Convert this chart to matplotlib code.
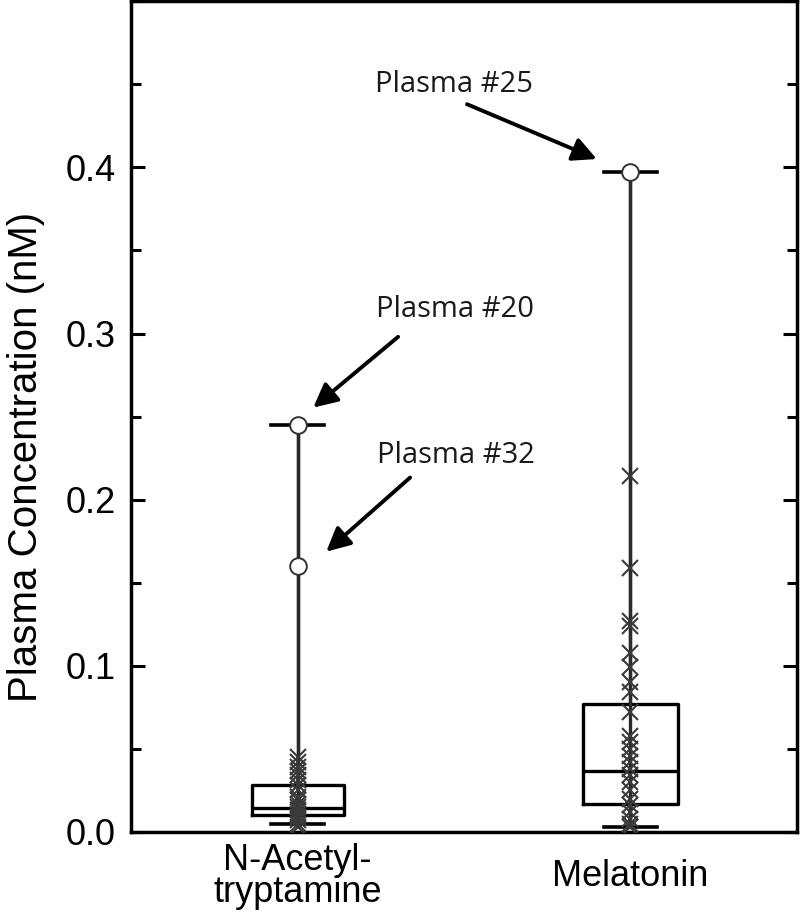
import matplotlib
matplotlib.use("Agg")
import matplotlib.pyplot as plt
from matplotlib.ticker import MultipleLocator

plt.rcParams["font.family"] = ["Liberation Sans", "DejaVu Sans"]

# ── Data ──────────────────────────────────────────────────────
categories = ["N-Acetyl-\ntryptamine", "Melatonin"]
positions = [1, 2]

q1 = [0.0102, 0.0169]
medians = [0.0145, 0.0367]
q3 = [0.0283, 0.0771]
whisk_lo = [0.0048, 0.0030]
whisk_hi = [0.245, 0.397]

# open circles (named plasma samples)
outliers_nat = [0.245, 0.160]
outliers_mel = [0.397]

# individual samples (x markers)
points_nat = [0.045, 0.042, 0.039, 0.037, 0.034, 0.031, 0.028, 0.025, 0.021,
              0.019, 0.017, 0.015, 0.013, 0.011, 0.009, 0.007, 0.005, 0.003]
points_mel = [0.214, 0.159, 0.127, 0.124, 0.108, 0.099, 0.090, 0.084, 0.072,
              0.058, 0.054, 0.050, 0.046, 0.042, 0.038, 0.034, 0.030, 0.025,
              0.020, 0.016, 0.012, 0.008, 0.005, 0.003]

annot_labels = ["Plasma #25", "Plasma #20", "Plasma #32"]
annot_text_xy = [(1.47, 0.450), (1.473, 0.3145), (1.476, 0.2265)]
annot_tail_xy = [(1.509, 0.438), (1.302, 0.298), (1.338, 0.2133)]
annot_tip_xy = [(1.899, 0.405), (1.047, 0.2554), (1.086, 0.1687)]

# ── Figure ────────────────────────────────────────────────────
fig = plt.figure(figsize=(8, 9.18), dpi=100)
ax = fig.add_axes([0.164, 0.0937, 0.832, 0.905])

# continuous whisker line cap-to-cap
ax.vlines(positions, whisk_lo, whisk_hi, color="#2a2a2a", lw=2.4, zorder=2)

stats = []
for i in range(2):
    stats.append({"med": medians[i], "q1": q1[i], "q3": q3[i],
                  "whislo": whisk_lo[i], "whishi": whisk_hi[i], "fliers": []})

ax.bxp(stats, positions=positions, widths=[0.276, 0.285], capwidths=0.16,
       showfliers=False, patch_artist=False,
       boxprops=dict(color="black", lw=2.4),
       medianprops=dict(color="black", lw=2.4),
       whiskerprops=dict(color="#2a2a2a", lw=2.4),
       capprops=dict(color="black", lw=2.6),
       manage_ticks=False)

ax.plot([positions[0]] * len(points_nat), points_nat, ls="none", marker="x",
        ms=12, mew=1.5, color="#3a3a3a", zorder=3)
ax.plot([positions[1]] * len(points_mel), points_mel, ls="none", marker="x",
        ms=12, mew=1.5, color="#3a3a3a", zorder=3)

ax.plot([positions[0]] * len(outliers_nat), outliers_nat, ls="none", marker="o",
        ms=12, mew=1.4, mfc="white", mec="#333333", zorder=4)
ax.plot([positions[1]] * len(outliers_mel), outliers_mel, ls="none", marker="o",
        ms=12, mew=1.4, mfc="white", mec="#333333", zorder=4)

# annotations
for lab, txy, tail, tip in zip(annot_labels, annot_text_xy, annot_tail_xy, annot_tip_xy):
    ax.text(txy[0], txy[1], lab, ha="center", va="center", fontsize=21,
            family=["Open Sans", "DejaVu Sans"], color="#1a1a1a")
    ax.annotate("", xy=tip, xytext=tail,
                arrowprops=dict(arrowstyle="-|>", lw=2.8, color="black",
                                mutation_scale=36, shrinkA=0, shrinkB=0))

# axes
ax.set_xlim(0.5, 2.5)
ax.set_ylim(0, 0.5)
ax.set_xticks(positions)
ax.set_xticklabels(categories, fontsize=26, linespacing=0.9)
for t in ax.get_xticklabels():
    t.set_verticalalignment("center")
ax.tick_params(axis="x", length=0, pad=32)

ax.set_yticks([0.0, 0.1, 0.2, 0.3, 0.4])
ax.set_yticklabels(["0.0", "0.1", "0.2", "0.3", "0.4"])
ax.yaxis.set_minor_locator(MultipleLocator(0.05))
ax.tick_params(axis="y", which="both", direction="in", left=True, right=True,
               labelsize=26, width=2.2, pad=11)
ax.tick_params(axis="y", which="major", length=10)
ax.tick_params(axis="y", which="minor", length=7)

for s in ax.spines.values():
    s.set_linewidth(2.5)

ax.set_ylabel("Plasma Concentration (nM)", fontsize=29)
ax.yaxis.set_label_coords(-0.13, 0.452)

fig.savefig("out.png", dpi=100)
